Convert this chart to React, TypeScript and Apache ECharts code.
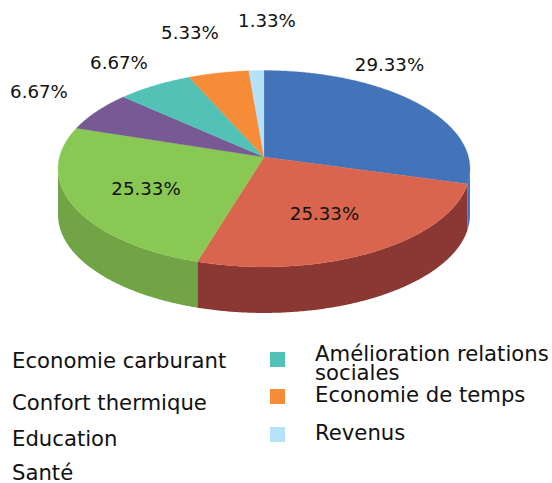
import React, { useEffect, useRef } from "react";
import * as echarts from "echarts";

const categories = ["Economie carburant", "Confort thermique", "Education", "Santé", "Amélioration relations\nsociales", "Economie de temps", "Revenus"];
const values = [29.33, 25.33, 25.33, 6.67, 6.67, 5.33, 1.33];
const topColors = ["#4374B9", "#D9654F", "#8AC854", "#775A93", "#52C2B7", "#F68C38", "#B5E1F9"];
const wallColors = ["#4374B9", "#8B3734", "#70A444", "#775A93", "#52C2B7", "#F68C38", "#B5E1F9"];
const labelPositions = [[389.5, 64], [324.5, 213], [146, 188], [39, 91], [119, 62], [190, 32], [267, 20]];

const CX = 264, CY = 157, A = 204.5, B = 96.8, K = -0.1196, DEPTH = 46;
const project = (deg: number) => {
  const t = (deg * Math.PI) / 180;
  const u = Math.sin(t), v = -Math.cos(t);
  const d = 1 + K * v;
  return [CX + (A * u) / d, CY + (B * v) / d];
};
// angle (clockwise from top) range where the outer wall of the pie faces the viewer
const WALL_FROM = 96.9, WALL_TO = 263.1;
const total = values.reduce((a, b) => a + b, 0);

const arcPoints = (from: number, to: number) => {
  const pts: number[][] = [];
  const n = Math.max(2, Math.ceil(Math.abs(to - from) * 2));
  for (let i = 0; i <= n; i++) pts.push(project(from + ((to - from) * i) / n));
  return pts;
};
const toPath = (pts: number[][]) => "M" + pts.map((p) => p[0].toFixed(2) + " " + p[1].toFixed(2)).join("L") + "Z";

export default function App() {
  const ref = useRef<HTMLDivElement>(null);
  useEffect(() => {
    const chart = echarts.init(ref.current!, null, { renderer: "svg" });
    const renderItem = (params: any, api: any) => {
      const idx = params.dataIndex;
      let start = 0;
      for (let i = 0; i < idx; i++) start += values[i];
      const from = (start / total) * 360;
      const to = ((start + (api.value(0) as number)) / total) * 360;
      const children: any[] = [];
      const wa = Math.max(from, WALL_FROM), wb = Math.min(to, WALL_TO);
      if (wb > wa) {
        const upper = arcPoints(wa, wb);
        const lower = upper.map((p) => [p[0], p[1] + DEPTH]).reverse();
        children.push({ type: "path", shape: { pathData: toPath(upper.concat(lower)) }, style: { fill: wallColors[idx] } });
      }
      const arc = arcPoints(from, to);
      children.push({ type: "path", shape: { pathData: toPath([[CX, CY], ...arc]) }, style: { fill: topColors[idx], stroke: topColors[idx], lineWidth: 0.3 } });
      return { type: "group", children };
    };
    const renderLabel = (params: any, api: any) => {
      const idx = params.dataIndex;
      return {
        type: "text",
        x: labelPositions[idx][0],
        y: labelPositions[idx][1],
        style: { text: (api.value(0) as number).toFixed(2) + "%", fill: "#111", font: "18.2px 'DejaVu Sans'", align: "center", verticalAlign: "middle" },
      };
    };
    const leftY = [360, 402, 438, 472];
    const rightY = [352, 389, 427];
    const rightTextY = [362.5, 394, 432];
    const font = "21.2px 'DejaVu Sans'";
    const graphic: any[] = [];
    leftY.forEach((y, i) => graphic.push({ type: "text", x: 12, y, style: { text: categories[i], font, fill: "#111", verticalAlign: "middle" } }));
    rightY.forEach((y, i) => {
      graphic.push({ type: "rect", shape: { x: 270, y, width: 15, height: 15 }, style: { fill: topColors[i + 4] } });
      graphic.push({ type: "text", x: 315, y: rightTextY[i], style: { text: categories[i + 4], font, lineHeight: 19, fill: "#111", verticalAlign: "middle" } });
    });
    chart.setOption({
      animation: false,
      backgroundColor: "#fff",
      graphic,
      series: [
        { type: "custom", coordinateSystem: "none", renderItem, data: values.map((v) => [v]), silent: true, z: 1 },
        { type: "custom", coordinateSystem: "none", renderItem: renderLabel, data: values.map((v) => [v]), silent: true, z: 2 },
      ],
    });
    return () => chart.dispose();
  }, []);
  return <div ref={ref} style={{ position: "absolute", left: 0, top: 0, width: 552, height: 483 }} />;
}
